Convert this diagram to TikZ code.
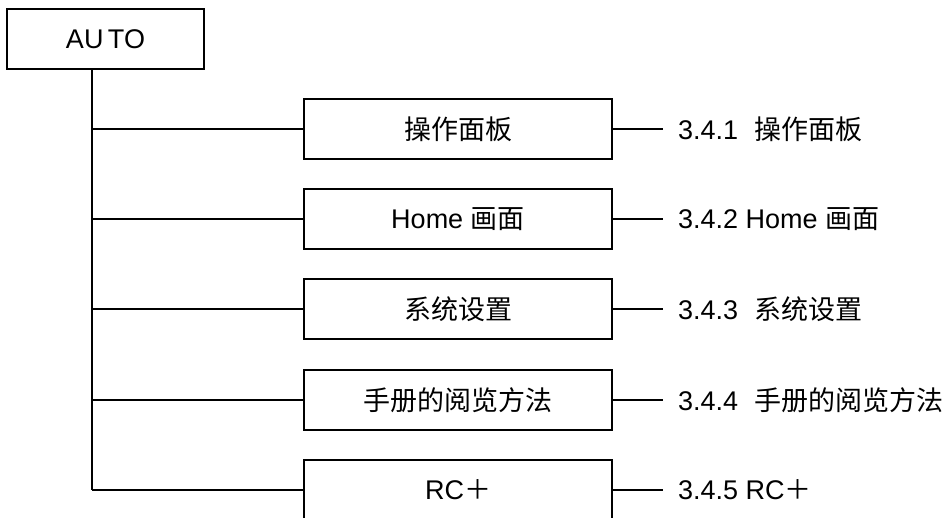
\documentclass[tikz,border=0pt]{standalone}
\usepackage{fontspec}
\setmainfont{Liberation Sans}
\newfontfamily\cjk{Noto Sans CJK SC}
\begin{document}
\begin{tikzpicture}[x=1pt,y=-1pt,
  box/.style={draw, line width=1.5pt, minimum width=308pt, minimum height=60pt, inner sep=0pt, font=\fontsize{27}{32}\selectfont},
  lbl/.style={anchor=west, inner sep=0pt, font=\fontsize{27}{32}\selectfont},
  conn/.style={line width=1.5pt}]
\useasboundingbox (0,0) rectangle (952,517);
\clip (0,0) rectangle (952,517);
% root
\node[box, minimum width=197pt] (auto) at (105.5,39) {AU\,TO};
% children
\node[box] (b1) at (458,129) {\cjk 操作面板};
\node[box] (b2) at (458,219) {Home {\cjk 画面}};
\node[box] (b3) at (458,309) {\cjk 系统设置};
\node[box] (b4) at (458,400) {\cjk 手册的阅览方法};
\node[box] (b5) at (458,490) {RC{\cjk ＋}};
% trunk
\coordinate (ttop) at (92,69);
\coordinate (t1) at (92,129);
\coordinate (t2) at (92,219);
\coordinate (t3) at (92,309);
\coordinate (t4) at (92,400);
\coordinate (t5) at (92,490);
\draw[conn] (ttop) -- (t5);
\draw[conn] (t1) -- (b1.west);
\draw[conn] (t2) -- (b2.west);
\draw[conn] (t3) -- (b3.west);
\draw[conn] (t4) -- (b4.west);
\draw[conn] (t5) -- (b5.west);
% right labels
\coordinate (r1) at (663,129);
\coordinate (r2) at (663,219);
\coordinate (r3) at (663,309);
\coordinate (r4) at (663,400);
\coordinate (r5) at (663,490);
\draw[conn] (b1.east) -- (r1);
\draw[conn] (b2.east) -- (r2);
\draw[conn] (b3.east) -- (r3);
\draw[conn] (b4.east) -- (r4);
\draw[conn] (b5.east) -- (r5);
\node[lbl] (l1) at (678,129) {3.4.1\hspace{16pt}{\cjk 操作面板}};
\node[lbl] (l2) at (678,219) {3.4.2 Home {\cjk 画面}};
\node[lbl] (l3) at (678,309) {3.4.3\hspace{16pt}{\cjk 系统设置}};
\node[lbl] (l4) at (678,400) {3.4.4\hspace{16pt}{\cjk 手册的阅览方法}};
\node[lbl] (l5) at (678,490) {3.4.5 RC{\cjk ＋}};
\end{tikzpicture}
\end{document}
